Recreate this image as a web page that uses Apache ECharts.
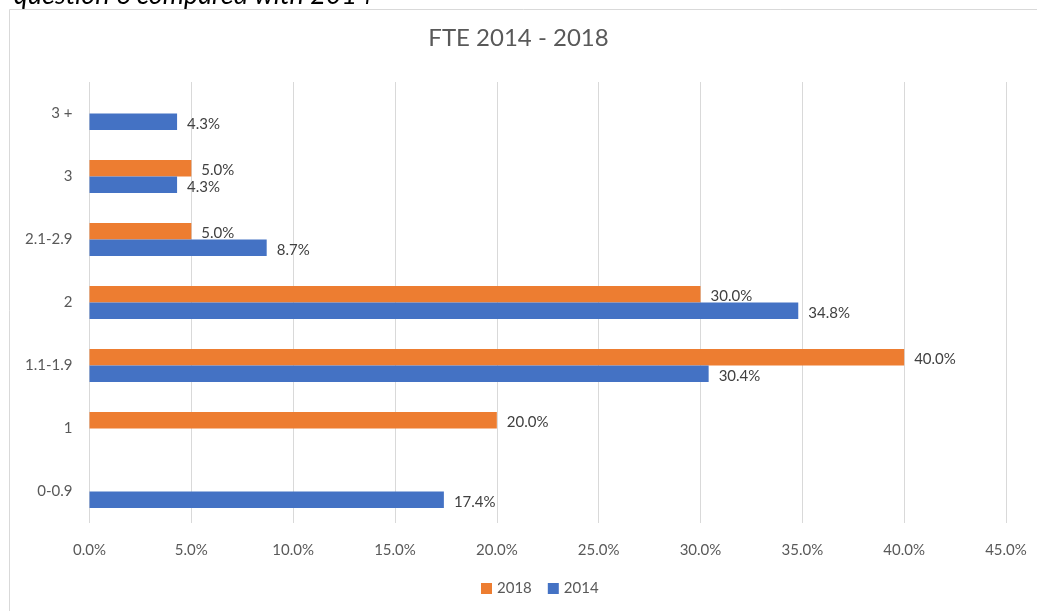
<!DOCTYPE html>
<html>
<head>
<meta charset="utf-8">
<script src="https://cdn.jsdelivr.net/npm/echarts@6/dist/echarts.min.js"></script>
<style>
    html, body { margin: 0; padding: 0; background: #fff; }
    #chart { width: 1037px; height: 611px; }
</style>
</head>
<body>
<div id="chart"></div>
<script>
const categories = ['0-0.9', '1', '1.1-1.9', '2', '2.1-2.9', '3', '3 +'];
const values2014 = [17.4, null, 30.4, 34.8, 8.7, 4.3, 4.3];
const values2018 = [null, 20.0, 40.0, 30.0, 5.0, 5.0, null];
const xTicks = { min: 0, max: 45, interval: 5 };

const FONT = 'Lato, "Open Sans", sans-serif';
const TEXT_COLOR = '#595959';

const chart = echarts.init(document.getElementById('chart'));

const labelStyle = {
    show: true,
    position: 'right',
    distance: 10,
    offset: [0, 2],
    color: '#404040',
    fontSize: 15,
    fontFamily: FONT,
    formatter: p => p.value.toFixed(1) + '%'
};

chart.setOption({
    animation: false,
    backgroundColor: '#fff',
    textStyle: { fontFamily: FONT },
    title: {
        text: 'FTE 2014 - 2018',
        left: 'center',
        top: 21,
        textStyle: { fontSize: 24, fontWeight: 'normal', color: TEXT_COLOR, fontFamily: FONT }
    },
    graphic: [
        {
            type: 'rect',
            shape: { x: 9.5, y: 9.5, width: 1200, height: 800 },
            style: { fill: 'none', stroke: '#d9d9d9', lineWidth: 1 },
            z: -1
        },
        {
            type: 'text',
            x: 14,
            y: 9,
            style: {
                text: 'question 6 compared with 2014',
                font: 'italic 27px ' + FONT,
                fill: '#000',
                verticalAlign: 'bottom'
            }
        }
    ],
    legend: {
        data: ['2018', '2014'],
        bottom: 10,
        left: 476,
        icon: 'rect',
        itemWidth: 11,
        itemHeight: 11,
        itemGap: 16,
        itemStyle: { borderWidth: 0 },
        textStyle: { color: TEXT_COLOR, fontSize: 15, fontFamily: FONT }
    },
    grid: { left: 89.5, right: 31, top: 82, bottom: 88, containLabel: false },
    xAxis: {
        type: 'value',
        min: xTicks.min,
        max: xTicks.max,
        interval: xTicks.interval,
        axisLine: { show: false },
        axisTick: { show: false },
        splitLine: { lineStyle: { color: '#d9d9d9', width: 1 } },
        axisLabel: {
            color: TEXT_COLOR,
            fontSize: 15,
            margin: 20,
            formatter: v => v.toFixed(1) + '%'
        }
    },
    yAxis: {
        type: 'category',
        data: categories,
        axisLine: { show: false },
        axisTick: { show: false },
        axisLabel: { color: TEXT_COLOR, fontSize: 15, margin: 17 }
    },
    series: [
        {
            name: '2018',
            type: 'bar',
            data: values2018,
            barGap: '0%',
            barCategoryGap: '48%',
            itemStyle: { color: '#ED7D31' },
            label: labelStyle
        },
        {
            name: '2014',
            type: 'bar',
            data: values2014,
            barGap: '0%',
            barCategoryGap: '48%',
            itemStyle: { color: '#4472C4' },
            label: labelStyle
        }
    ]
});
</script>
</body>
</html>
